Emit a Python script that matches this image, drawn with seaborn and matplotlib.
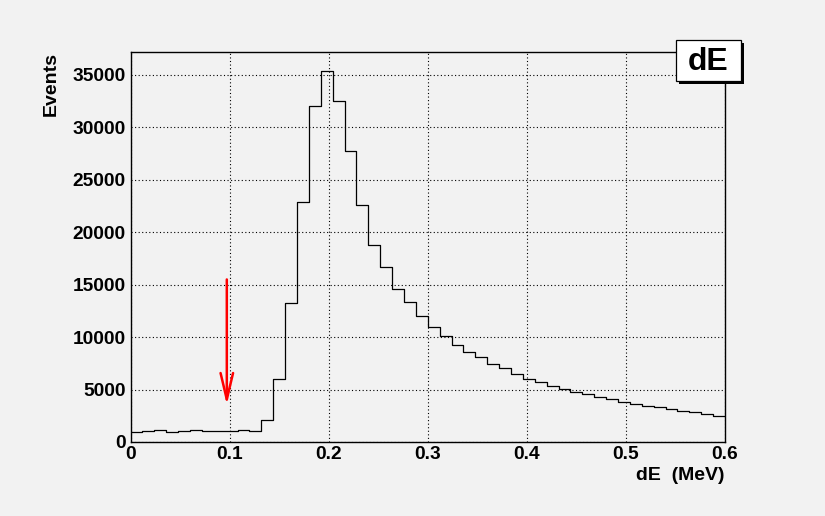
import numpy as np
import pandas as pd
import matplotlib
matplotlib.use("Agg")
import matplotlib.pyplot as plt
from matplotlib.patches import Rectangle
from matplotlib.ticker import MultipleLocator, FixedLocator
import seaborn as sns

# ---- data ----
x_min, x_max, n_bins = 0.0, 0.6, 50
counts = [1000, 1080, 1100, 1000, 1080, 1100, 1020, 1050, 1080, 1100, 1080,
          2050, 6000, 13260, 22900, 32000, 35400, 32500, 27700, 22600,
          18800, 16700, 14600, 13350, 12050, 10960, 10130, 9240, 8570, 8130,
          7460, 7050, 6470, 6020, 5700, 5320, 5070, 4780, 4620, 4270,
          4080, 3820, 3660, 3440, 3320, 3160, 2990, 2840, 2700, 2520]
x_ticks = [0, 0.1, 0.2, 0.3, 0.4, 0.5, 0.6]
x_ticklabels = ["0", "0.1", "0.2", "0.3", "0.4", "0.5", "0.6"]
y_ticks = [0, 5000, 10000, 15000, 20000, 25000, 30000, 35000]
y_ticklabels = ["0", "5000", "10000", "15000", "20000", "25000", "30000", "35000"]
title = "dE"
xlabel = "dE  (MeV)"
ylabel = "Events"
arrow_x = 0.0972
arrow_from = 15490
arrow_to = 3540

bw = (x_max - x_min) / n_bins
centers = x_min + bw * (np.arange(n_bins) + 0.5)
df = pd.DataFrame({"dE": centers, "w": np.asarray(counts, dtype=float)})

sns.set_theme(style="white")
bg = "#f2f2f2"
plt.rcParams["font.family"] = ["Liberation Sans", "DejaVu Sans"]
plt.rcParams["font.weight"] = "bold"

W, H = 825, 516
fig = plt.figure(figsize=(W / 100, H / 100), dpi=100, facecolor=bg)
ax = fig.add_axes([130.5 / W, (H - 442) / H, (725 - 130.5) / W, 390 / H])
ax.set_facecolor(bg)

sns.histplot(data=df, x="dE", weights="w", binwidth=bw, binrange=(x_min, x_max),
             element="step", fill=False, color="black", linewidth=0.9, ax=ax,
             legend=False)

ax.set_xlim(x_min, x_max)
ax.set_ylim(0, max(counts) * 1.05)
ax.set_xlabel("")
ax.set_ylabel("")

ax.xaxis.set_major_locator(FixedLocator(x_ticks))
ax.set_xticklabels(x_ticklabels)
ax.xaxis.set_minor_locator(MultipleLocator(0.02))
ax.yaxis.set_major_locator(FixedLocator(y_ticks))
ax.set_yticklabels(y_ticklabels)
ax.yaxis.set_minor_locator(MultipleLocator(1000))

ax.tick_params(axis="x", which="major", direction="in", length=8.4, width=0.8,
               color="black", labelsize=13.8, pad=2.8, labelcolor="black")
ax.tick_params(axis="x", which="minor", direction="in", length=4.2, width=0.8,
               color="black")
ax.tick_params(axis="y", which="major", direction="in", length=13, width=0.8,
               color="black", labelsize=13.8, pad=3.5, labelcolor="black")
ax.tick_params(axis="y", which="minor", direction="in", length=6.5, width=0.8,
               color="black")
for lab in ax.get_xticklabels() + ax.get_yticklabels():
    lab.set_fontweight("bold")

ax.grid(True, which="major", color="black", linestyle=(0, (1, 2.2)),
        linewidth=0.8)
ax.set_axisbelow(False)
for s in ax.spines.values():
    s.set_color("black")
    s.set_linewidth(1.0)
    s.set_visible(True)

ax.annotate("", xy=(arrow_x, arrow_to), xytext=(arrow_x, arrow_from),
            xycoords="data", textcoords="data",
            arrowprops=dict(arrowstyle="->,head_length=1.9,head_width=0.45",
                            mutation_scale=10, color="red", lw=1.8,
                            shrinkA=0, shrinkB=0))

# axis titles
fig.text(724.5 / W, 1 - 476 / H, xlabel, ha="right", va="center",
         fontsize=14, fontweight="bold", color="black")
fig.text(50.8 / W, 1 - 52.5 / H, ylabel, ha="center", va="top", rotation=90,
         fontsize=14, fontweight="bold", color="black")

# title box with shadow
bx0, bx1, by0, by1 = 676, 740.5, 40, 81
fig.patches.append(Rectangle(((bx0 + 3) / W, 1 - (by1 + 3) / H), (bx1 - bx0) / W,
                             (by1 - by0) / H, transform=fig.transFigure,
                             facecolor="black", edgecolor="none", zorder=5))
fig.patches.append(Rectangle((bx0 / W, 1 - by1 / H), (bx1 - bx0) / W,
                             (by1 - by0) / H, transform=fig.transFigure,
                             facecolor="white", edgecolor="black", lw=0.9,
                             zorder=6))
fig.text((bx0 + bx1) / 2 / W, 1 - 62.5 / H, title, ha="center", va="center",
         fontsize=23, fontweight="bold", color="black", zorder=7)

fig.savefig("out.png", dpi=100, facecolor=bg)
